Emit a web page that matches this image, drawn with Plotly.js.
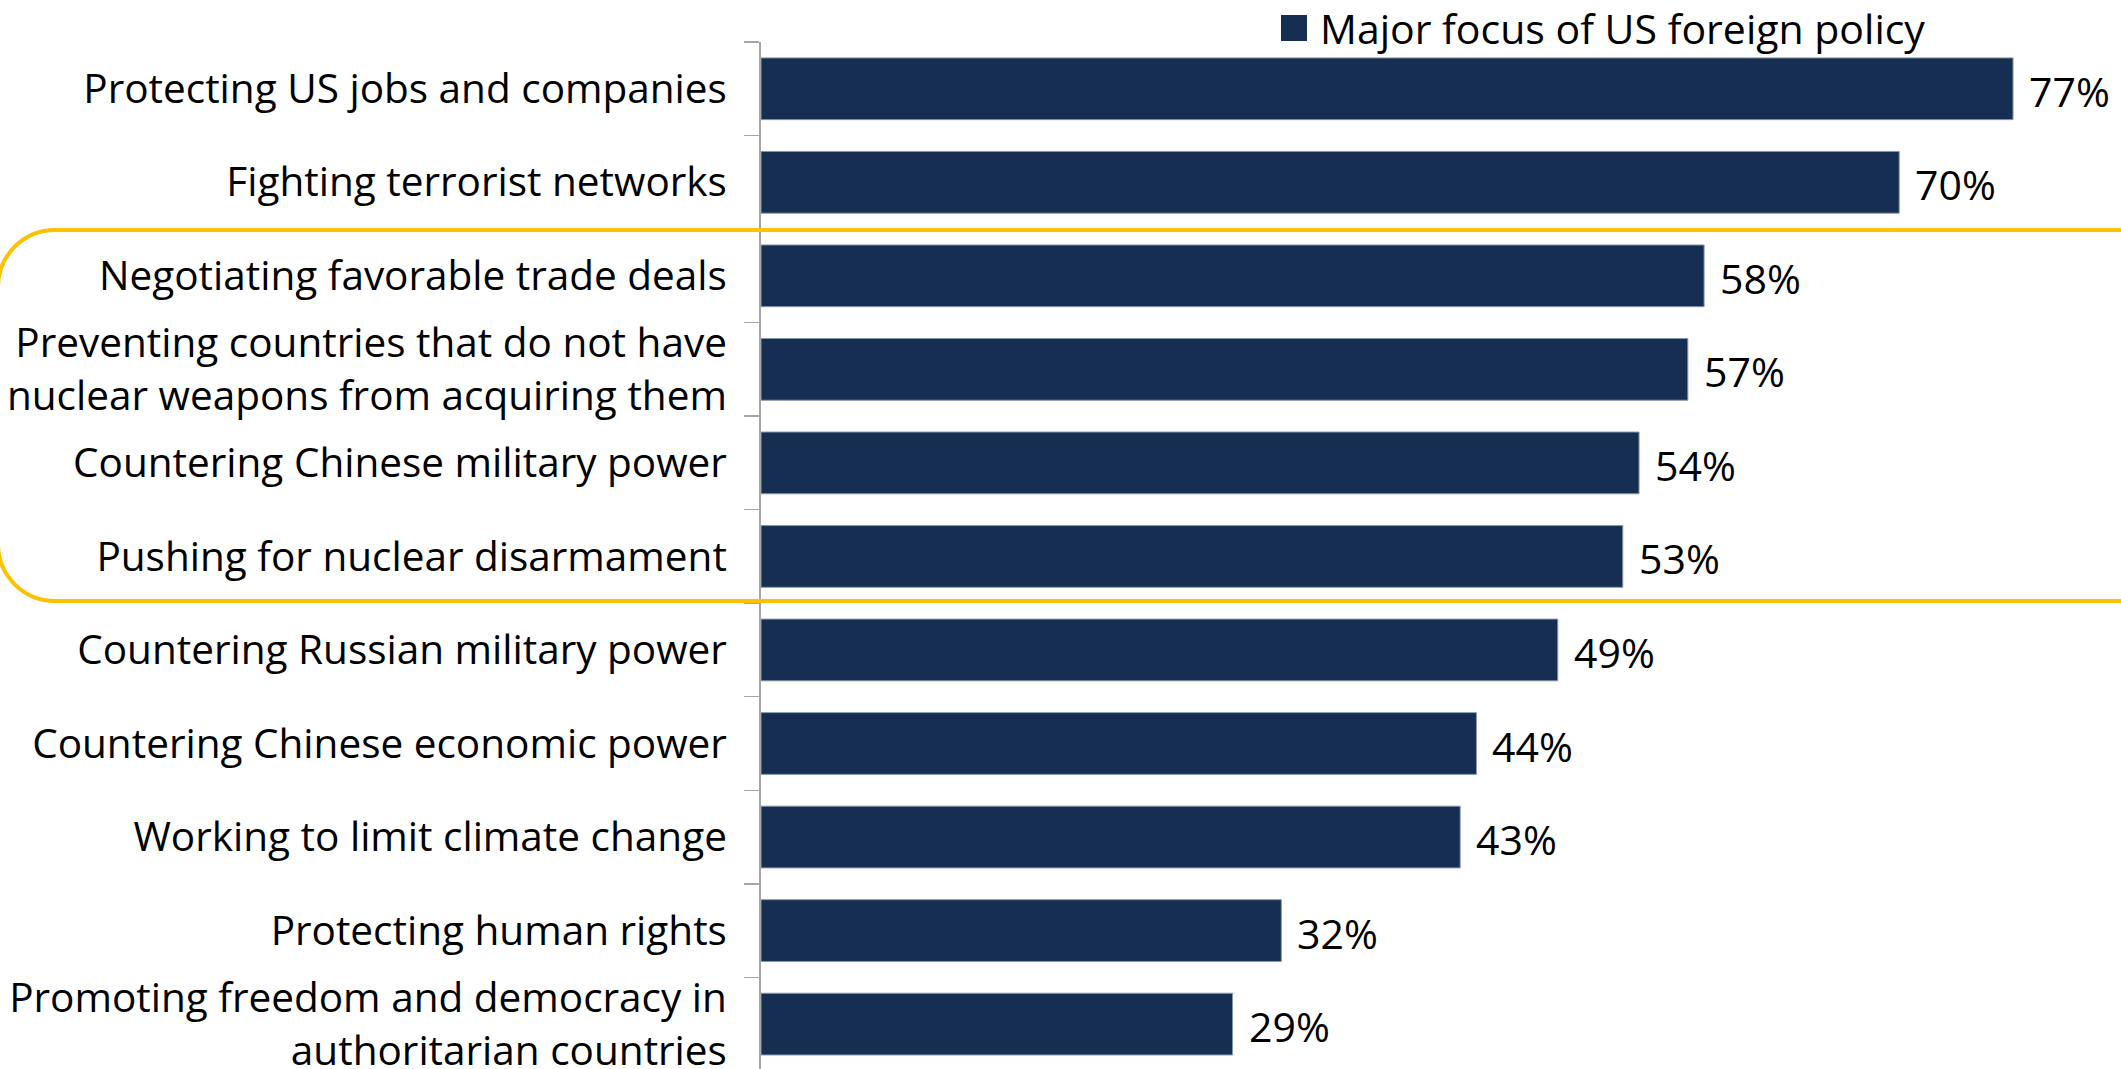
<!DOCTYPE html>
<html>
<head>
<meta charset="utf-8">
<script src="https://cdn.plot.ly/plotly-3.0.1.min.js"></script>
<style>
  html, body { margin: 0; padding: 0; background: #ffffff; }
  #chart { width: 2121px; height: 1069px; }
</style>
</head>
<body>
<div id="chart"></div>
<script>
// ---- Data ----
const categories = [
  "Protecting US jobs and companies",
  "Fighting terrorist networks",
  "Negotiating favorable trade deals",
  "Preventing countries that do not have<br>nuclear weapons from acquiring them",
  "Countering Chinese military power",
  "Pushing for nuclear disarmament",
  "Countering Russian military power",
  "Countering Chinese economic power",
  "Working to limit climate change",
  "Protecting human rights",
  "Promoting freedom and democracy in<br>authoritarian countries"
];
const values = [77, 70, 58, 57, 54, 53, 49, 44, 43, 32, 29];
const seriesName = "Major focus of US foreign policy";

// ---- Layout geometry ----
const W = 2121, H = 1069;
const M = { l: 761, r: 0, t: 42, b: 0 };
const plotW = W - M.l - M.r, plotH = H - M.t - M.b;
const px2x = px => (px - M.l) / plotW;
const py2y = py => 1 - (py - M.t) / plotH;

const barColor = "#152e52";
const fontFamily = "'Segoe UI', 'Open Sans', 'Noto Sans', sans-serif";
const tickFontSize = 40.5;
const labelFontSize = 41;

// Yellow rounded highlight frame (left side rounded, open to the right)
const fTop = 230, fBot = 601, fLeft = -2, fRight = W + 20, R = 57, k = 0.5523 * R;
const P = (x, y) => px2x(x).toFixed(5) + "," + py2y(y).toFixed(5);
const framePath =
  "M" + P(fRight, fTop) +
  " L" + P(fLeft + R, fTop) +
  " C" + P(fLeft + R - k, fTop) + " " + P(fLeft, fTop + R - k) + " " + P(fLeft, fTop + R) +
  " L" + P(fLeft, fBot - R) +
  " C" + P(fLeft, fBot - R + k) + " " + P(fLeft + R - k, fBot) + " " + P(fLeft + R, fBot) +
  " L" + P(fRight, fBot);

const trace = {
  type: "bar",
  orientation: "h",
  x: values,
  y: categories,
  name: seriesName,
  marker: { color: barColor, line: { color: "#8497b0", width: 1 } },
  hoverinfo: "x+y",
  showlegend: false
};

const annotations = values.map((v, i) => ({
  x: v, y: categories[i], xref: "x", yref: "y",
  text: v + "%", showarrow: false, xanchor: "left", yanchor: "middle",
  xshift: 14, yshift: -2,
  font: { family: fontFamily, size: labelFontSize, color: "#000000" }
}));
annotations.push({
  x: px2x(1318), y: py2y(28), xref: "paper", yref: "paper",
  text: seriesName, showarrow: false, xanchor: "left", yanchor: "middle",
  font: { family: fontFamily, size: labelFontSize, color: "#000000" }
});

const layout = {
  width: W, height: H,
  margin: M,
  paper_bgcolor: "#ffffff",
  plot_bgcolor: "#ffffff",
  bargap: 0.34,
  font: { family: fontFamily, size: tickFontSize, color: "#000000" },
  xaxis: {
    range: [0, plotW / 16.26],
    showgrid: false, zeroline: false, showline: false,
    showticklabels: false, ticks: ""
  },
  yaxis: {
    type: "category",
    range: [10.48, -0.5],
    showgrid: false, zeroline: false,
    showline: true, linecolor: "#a6a6a6", linewidth: 2,
    ticks: "outside", tickson: "boundaries", ticklen: 15, tickwidth: 1.5, tickcolor: "#a6a6a6",
    ticklabelstandoff: 24,
    automargin: false,
    tickfont: { family: fontFamily, size: tickFontSize, color: "#000000" }
  },
  shapes: [
    {
      type: "path", xref: "paper", yref: "paper", path: framePath,
      line: { color: "#ffc000", width: 4 }, fillcolor: "rgba(0,0,0,0)", layer: "above"
    },
    {
      type: "rect", xref: "paper", yref: "paper",
      x0: px2x(1281), x1: px2x(1307), y0: py2y(41), y1: py2y(15),
      fillcolor: barColor, line: { width: 0 }
    }
  ],
  annotations: annotations
};

Plotly.newPlot("chart", [trace], layout, { displayModeBar: false, staticPlot: true });
</script>
</body>
</html>
